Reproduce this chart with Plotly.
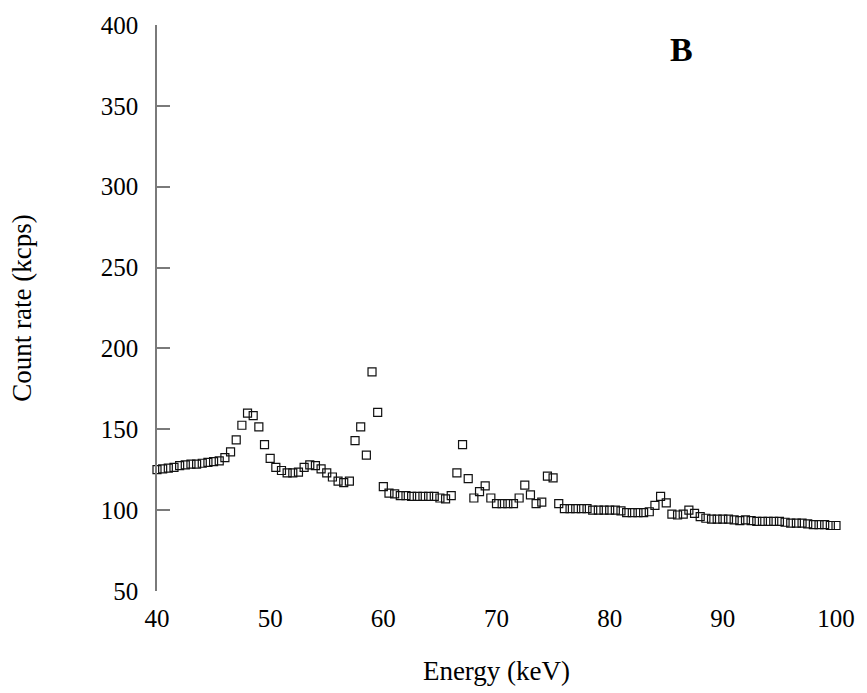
import plotly.graph_objects as go

energy_kev = [
    40.0, 40.5, 41.0, 41.5, 42.0, 42.5, 43.0, 43.5, 44.0, 44.5,
    45.0, 45.5, 46.0, 46.5, 47.0, 47.5, 48.0, 48.5, 49.0, 49.5,
    50.0, 50.5, 51.0, 51.5, 52.0, 52.5, 53.0, 53.5, 54.0, 54.5,
    55.0, 55.5, 56.0, 56.5, 57.0, 57.5, 58.0, 58.5, 59.0, 59.5,
    60.0, 60.5, 61.0, 61.5, 62.0, 62.5, 63.0, 63.5, 64.0, 64.5,
    65.0, 65.5, 66.0, 66.5, 67.0, 67.5, 68.0, 68.5, 69.0, 69.5,
    70.0, 70.5, 71.0, 71.5, 72.0, 72.5, 73.0, 73.5, 74.0, 74.5,
    75.0, 75.5, 76.0, 76.5, 77.0, 77.5, 78.0, 78.5, 79.0, 79.5,
    80.0, 80.5, 81.0, 81.5, 82.0, 82.5, 83.0, 83.5, 84.0, 84.5,
    85.0, 85.5, 86.0, 86.5, 87.0, 87.5, 88.0, 88.5, 89.0, 89.5,
    90.0, 90.5, 91.0, 91.5, 92.0, 92.5, 93.0, 93.5, 94.0, 94.5,
    95.0, 95.5, 96.0, 96.5, 97.0, 97.5, 98.0, 98.5, 99.0, 99.5,
    100.0,
]

count_rate_kcps = [
    125.0, 125.5, 126.0, 126.5, 127.5, 128.0, 128.5, 128.5, 129.0, 129.5,
    130.0, 130.5, 132.5, 136.0, 143.5, 152.5, 160.0, 158.5, 151.5, 140.5,
    132.0, 126.5, 124.5, 123.0, 123.0, 123.5, 126.5, 128.0, 127.5, 125.5,
    123.0, 120.5, 118.0, 117.0, 118.0, 143.0, 151.5, 134.0, 185.5, 160.5,
    114.5, 110.5, 110.0, 109.0, 109.0, 108.5, 108.5, 108.5, 108.5, 108.5,
    107.5, 107.0, 109.0, 123.0, 140.5, 119.5, 107.5, 111.5, 115.0, 107.5,
    104.0, 104.0, 104.0, 104.0, 107.5, 115.5, 109.5, 104.0, 105.0, 121.0,
    120.0, 104.0, 101.0, 101.0, 101.0, 101.0, 101.0, 100.0, 100.0, 100.0,
    100.0, 100.0, 99.5, 98.5, 98.5, 98.5, 98.5, 99.0, 103.0, 108.5,
    104.5, 97.5, 97.0, 97.5, 100.0, 98.0, 96.0, 95.0, 94.5, 94.5,
    94.5, 94.5, 94.0, 93.5, 94.0, 93.5, 93.0, 93.0, 93.0, 93.0,
    93.0, 92.5, 92.0, 92.0, 92.0, 91.5, 91.0, 91.0, 91.0, 90.5,
    90.5,
]

x_ticks = [40, 50, 60, 70, 80, 90, 100]
y_ticks = [50, 100, 150, 200, 250, 300, 350, 400]

panel_label = "B"
x_title = "Energy (keV)"
y_title = "Count rate (kcps)"

FONT = "Liberation Serif, Times New Roman, serif"
AXIS_GRAY = "#7a7a7a"

fig = go.Figure()
fig.add_trace(go.Scatter(
    x=energy_kev,
    y=count_rate_kcps,
    mode="markers",
    marker=dict(symbol="square-open", size=8, color="#111111",
                line=dict(width=1.2, color="#111111")),
    cliponaxis=False,
    showlegend=False,
))

fig.update_layout(
    width=867, height=693,
    margin=dict(l=157, r=24, t=25, b=101),
    paper_bgcolor="white", plot_bgcolor="white",
    font=dict(family=FONT, size=25, color="black"),
)

fig.update_xaxes(
    range=[40, 100], tickvals=x_ticks, ticktext=[str(v) for v in x_ticks],
    showline=False, ticks="", showgrid=False, zeroline=False,
    ticklabelstandoff=10,
    tickfont=dict(family=FONT, size=25, color="black"),
    title=dict(text=x_title, font=dict(family=FONT, size=27, color="black"), standoff=30),
)
fig.update_yaxes(
    range=[50, 400], tickvals=y_ticks, ticktext=[str(v) for v in y_ticks],
    showline=True, linecolor=AXIS_GRAY, linewidth=1.5,
    ticks="inside", ticklen=13, tickwidth=1.5, tickcolor=AXIS_GRAY,
    showgrid=False, zeroline=False,
    ticklabelstandoff=12,
    tickfont=dict(family=FONT, size=25, color="black"),
    title=dict(text=y_title, font=dict(family=FONT, size=27, color="black"), standoff=61),
)

fig.add_annotation(
    x=0.772, y=0.957, xref="paper", yref="paper",
    text="<b>" + panel_label + "</b>", showarrow=False,
    font=dict(family=FONT, size=34, color="black"),
    xanchor="center", yanchor="middle",
)

fig.write_html("out.html")
